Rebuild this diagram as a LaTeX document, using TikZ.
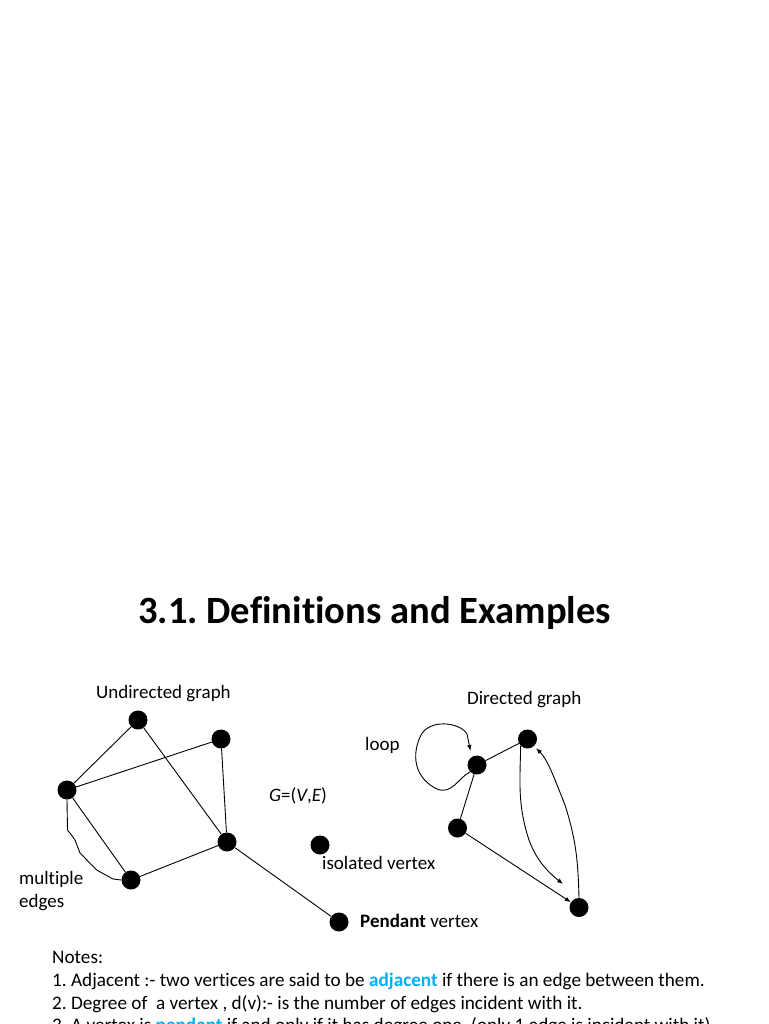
\documentclass[tikz,border=0pt]{standalone}
\usepackage{fontspec}
\setmainfont{Carlito}[Ligatures=NoCommon]
\usetikzlibrary{arrows.meta}
\definecolor{hl}{RGB}{0,176,240}
\frenchspacing
\begin{document}
\begin{tikzpicture}[x=1pt,y=-1pt,
  vtx/.style={circle,fill=black,inner sep=0pt,minimum size=19pt},
  lbl/.style={anchor=base west,inner sep=0pt,font=\fontsize{19}{21}\selectfont},
  note/.style={anchor=base west,inner sep=0pt,font=\fontsize{19.2}{21}\selectfont},
  edge/.style={line width=0.9pt},
  arr/.style={line width=0.9pt,-{Latex[length=6pt,width=4.5pt]}}]
\useasboundingbox (0,0) rectangle (768,1024);
\clip (0,0) rectangle (768,1024);
% title
\node[anchor=base west,inner sep=0pt,font=\fontsize{38.6}{42}\bfseries] (title) at (138,623) {3.1. Definitions and Examples};
% undirected graph
\node[vtx] (a) at (138,720) {};
\node[vtx] (b) at (221,739) {};
\node[vtx] (c) at (67,790) {};
\node[vtx] (d) at (227,842) {};
\node[vtx] (e) at (131,880) {};
\node[vtx] (f) at (339,922) {};
\node[vtx] (iso) at (320,845) {};
\draw[edge] (a) -- (c);
\draw[edge] (a) -- (d);
\draw[edge] (c) -- (b);
\draw[edge] (b) -- (d);
\draw[edge] (c) -- (e);
\draw[edge] (e) -- (d);
\draw[edge] (d) -- (f);
\draw[edge] (c.south) -- (67.5,830) -- (71.5,835) -- (75,840) -- (80,853) -- (96.7,870) -- (113,879) -- (e.west);
% labels left
\node[lbl] (ulab) at (96,698) {Undirected graph};
\node[lbl] (gve) at (269,801) {\itshape G\upshape=(\itshape V\upshape,\itshape E\upshape)};
\node[lbl] (isol) at (322,869) {isolated vertex};
\node[lbl] (mult1) at (19,884) {multiple};
\node[lbl] (mult2) at (19,907) {edges};
\node[lbl] (pend) at (360,927) {\textbf{Pendant} vertex};
% directed graph
\node[vtx] (p) at (527.5,739) {};
\node[vtx] (q) at (477,765) {};
\node[vtx] (r) at (457.5,828) {};
\node[vtx] (s) at (579,907.5) {};
\node[lbl] (dlab) at (467,704) {Directed graph};
\node[lbl] (loop) at (365,750) {loop};
\coordinate (pe) at (563,884);
\draw[edge] (p) -- (q);
\draw[edge] (q) -- (r);
\draw[arr] (r) -- (s);
\draw[arr] (p.south west) .. controls (520,780) and (518,800) .. (526,830)
   .. controls (533,858) and (548,872) .. (pe);
\draw[arr] (s.north) .. controls (578,860) and (576,840) .. (565,805)
   .. controls (555,780) and (548,760) .. (536,748);
\draw[arr] (q.south west) .. controls (458,778) and (452,795) .. (437,789)
   .. controls (418,780) and (410,760) .. (420,737)
   .. controls (428,718) and (460,722) .. (467,734)
   -- (470.5,751);
% notes
\node[note] (n0) at (52,963) {Notes:};
\node[note] (n1) at (52,986.5) {1. Adjacent :- two vertices are said to be \textcolor{hl}{\textbf{adjacent}} if there is an edge between them.};
\node[note] (n2) at (52,1009) {2. Degree of\ \ a vertex , d(v):- is the number of edges incident with it.};
\node[note] (n3) at (52,1031.5) {3. A vertex is \textcolor{hl}{\textbf{pendant}} if and only if it has degree one. (only 1 edge is incident with it)};
\end{tikzpicture}
\end{document}
